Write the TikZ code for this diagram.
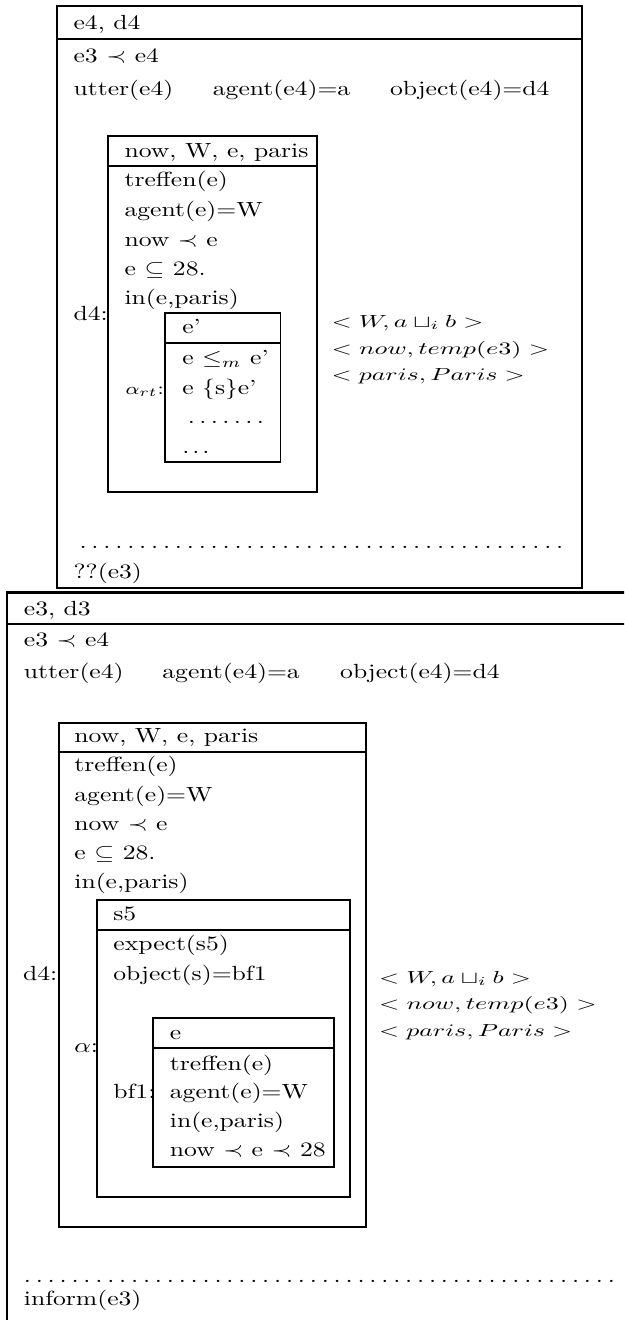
\documentclass[tikz,border=0pt]{standalone}
\usepackage{amssymb}
\usepackage{graphicx}
\newcommand\drsfont{\fontsize{10}{12}\selectfont}
\newcommand\dotrow[2]{\foreach \k in {1,...,#1}{.\kern#2}}
% anchor rows: set to a fixed width and height
\newcommand\anchorbox[3]{\resizebox{#1}{#2}{$#3$}}
\tikzset{
  txt/.style={anchor=base west, inner sep=0pt, outer sep=0pt, font=\drsfont, transform shape},
  small/.style={txt, font=\fontsize{8.5}{10}\selectfont},
  box/.style={line width=1.8pt},
  bigbox/.style={line width=2.4pt}
}
\begin{document}
\begin{tikzpicture}
\useasboundingbox (0pt,0pt) rectangle (624pt,-1320pt);
\clip (0pt,0pt) rectangle (624pt,-1320pt);
% one unit = one point; text is set at 10pt and enlarged (wider than tall)
\begin{scope}[x=0.390244pt, y=-0.487805pt, xscale=2.5625, yscale=2.05]
% ---------- upper structure: e4, d4 ----------
\draw[box] (56.9,5.7) rectangle (581.8,588.3);
\draw[box] (56.9,39) -- (581.8,39);
\node[txt] (a-univ) at (73.6,29.3) {e4, d4};
\node[txt] (a-c1) at (73.6,62) {e3 $\prec$ e4};
\node[txt] (a-c2) at (73.6,95) {utter(e4)};
\node[txt] (a-c3) at (212.9,95) {agent(e4)=a};
\node[txt] (a-c4) at (390,95) {object(e4)=d4};

\draw[box] (108.2,136) rectangle (317.2,491.7);
\draw[box] (108.2,165.7) -- (317.2,165.7);
\node[txt] (b-univ) at (124.6,157) {now, W, e, paris};
\node[txt] (b-c1) at (124.6,186.7) {treffen(e)};
\node[txt] (b-c2) at (124.6,216.7) {agent(e)=W};
\node[txt] (b-c3) at (124.6,246) {now $\prec$ e};
\node[txt] (b-c4) at (124.6,275) {e $\subseteq$ 28.};
\node[txt] (b-c5) at (124.6,304) {in(e,paris)};
\node[txt] (b-lab) at (73.6,320) {d4:};

\draw[box] (165.1,313.3) rectangle (280.5,462.3);
\draw[box] (165.1,343.3) -- (280.5,343.3);
\node[txt] (c-univ) at (182.3,333) {e'};
\node[txt] (c-c1) at (182.3,364) {e $\leq_m$ e'};
\node[small] (c-lab) at (125.5,394) {$\alpha_{rt}$:};
\node[txt] (c-c2) at (182.3,394) {e \{s\}e'};
\node[txt] (c-c3) at (187.8,423) {\dotrow{7}{1.71pt}};
\node[txt] (c-c4) at (182.3,453) {\dotrow{3}{1.12pt}};

\node[txt] (a-m1) at (331.5,327) {\anchorbox{59.3pt}{5.93pt}{<W, a \sqcup_i b>}};
\node[txt] (a-m2) at (331.5,354) {\anchorbox{84.9pt}{6.4pt}{<now, temp(e3)>}};
\node[txt] (a-m3) at (331.5,380) {\anchorbox{75.5pt}{5.83pt}{<paris, Paris>}};

\node[txt] (a-dots) at (79.6,548) {\dotrow{41}{1.87pt}};
\node[txt] (a-act) at (73.6,578) {??(e3)};

% ---------- lower structure: e3, d3 ----------
\draw[bigbox] (6.8,1340) -- (6.8,592.3) -- (650,592.3);
\draw[bigbox] (6.8,624) -- (650,624);
\node[txt] (d-univ) at (23.9,615) {e3, d3};
\node[txt] (d-c1) at (23.9,646.7) {e3 $\prec$ e4};
\node[txt] (d-c2) at (23.9,678.3) {utter(e4)};
\node[txt] (d-c3) at (162.4,678.3) {agent(e4)=a};
\node[txt] (d-c4) at (340.2,678.3) {object(e4)=d4};

\draw[box] (58.9,722.7) rectangle (366.1,1226.7);
\draw[box] (58.9,752.3) -- (366.1,752.3);
\node[txt] (e-univ) at (74.4,742.3) {now, W, e, paris};
\node[txt] (e-c1) at (74.4,771.7) {treffen(e)};
\node[txt] (e-c2) at (74.4,801.7) {agent(e)=W};
\node[txt] (e-c3) at (74.4,830.7) {now $\prec$ e};
\node[txt] (e-c4) at (74.4,859.3) {e $\subseteq$ 28.};
\node[txt] (e-c5) at (74.4,888.3) {in(e,paris)};
\node[txt] (e-lab) at (23.1,980) {d4:};

\draw[box] (96.7,900) rectangle (350.2,1196.7);
\draw[box] (96.7,930) -- (350.2,930);
\node[txt] (f-univ) at (113.4,920) {s5};
\node[txt] (f-c1) at (113.4,950) {expect(s5)};
\node[txt] (f-c2) at (113.4,980) {object(s)=bf1};
\node[txt] (f-lab) at (74.4,1052.7) {$\alpha$:};

\draw[box] (153.2,1018.3) rectangle (334.3,1166.7);
\draw[box] (153.2,1048.3) -- (334.3,1048.3);
\node[txt] (g-univ) at (169.9,1039.3) {e};
\node[txt] (g-c1) at (169.9,1070) {treffen(e)};
\node[txt] (g-c2) at (169.9,1098.3) {agent(e)=W};
\node[txt] (g-c3) at (169.9,1127.7) {in(e,paris)};
\node[txt] (g-c4) at (169.9,1156.7) {now $\prec$ e $\prec$ 28};
\node[txt] (g-lab) at (113.4,1098.3) {bf1:};

\node[txt] (d-m1) at (379,983) {\anchorbox{59.3pt}{5.93pt}{<W, a \sqcup_i b>}};
\node[txt] (d-m2) at (379,1009) {\anchorbox{84.9pt}{6.4pt}{<now, temp(e3)>}};
\node[txt] (d-m3) at (379,1036) {\anchorbox{75.5pt}{5.83pt}{<paris, Paris>}};

\node[txt] (d-dots) at (23.9,1282) {\dotrow{50}{1.87pt}};
\node[txt] (d-act) at (23.9,1305) {inform(e3)};
\end{scope}
\end{tikzpicture}
\end{document}
